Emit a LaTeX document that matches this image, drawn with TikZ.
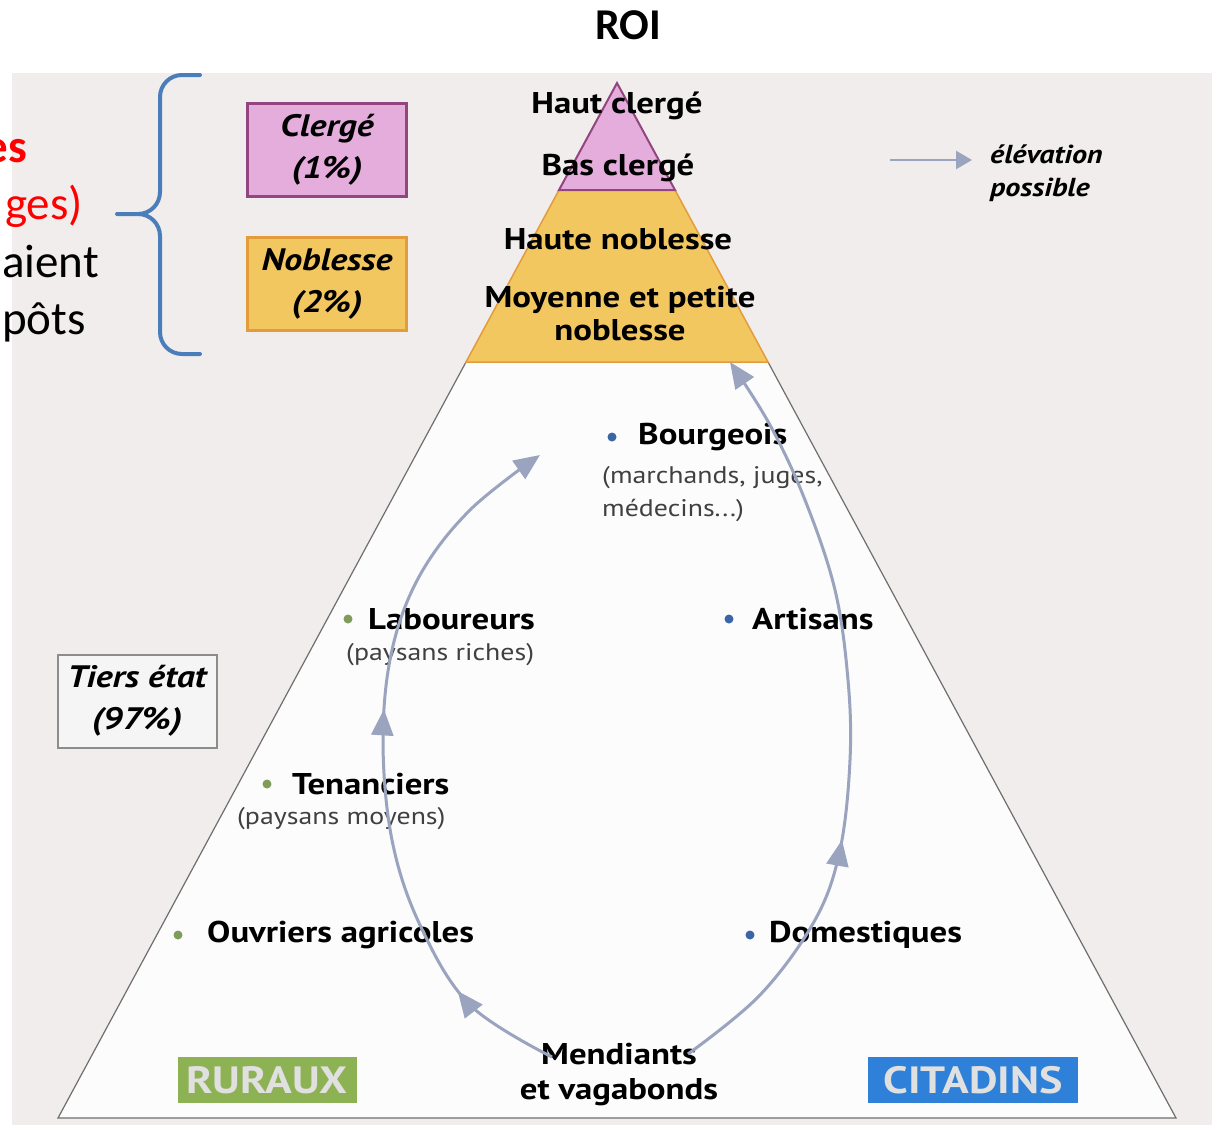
\documentclass[tikz,border=0pt]{standalone}
\usepackage{fontspec}
\setmainfont{PT Sans}[FakeStretch=1.16]
\newfontfamily\calib{Carlito}
\usetikzlibrary{arrows.meta,decorations.markings}
\definecolor{bgphoto}{HTML}{F1EDED}
\definecolor{innerwhite}{HTML}{FCFCFC}
\definecolor{clergyfill}{HTML}{E4ADDC}
\definecolor{clergyline}{HTML}{93457F}
\definecolor{noblefill}{HTML}{F3C760}
\definecolor{nobleline}{HTML}{E39C3C}
\definecolor{braceblue}{HTML}{4A7EBB}
\definecolor{arrowgrey}{HTML}{9AA4BE}
\definecolor{rurgreen}{HTML}{8DB253}
\definecolor{citblue}{HTML}{2F80D8}
\definecolor{dotgreen}{HTML}{7F9C5B}
\definecolor{dotblue}{HTML}{3A66A8}
\definecolor{edgegrey}{HTML}{6E6E6E}
\definecolor{redtxt}{HTML}{FF0000}
\begin{document}
\begin{tikzpicture}[x=1pt,y=-1pt,
  lvl/.style={font=\bfseries\fontsize{30}{32}\selectfont, inner sep=0pt},
  lab/.style={font=\bfseries\fontsize{30}{32}\selectfont, anchor=west, inner sep=0pt},
  sublab/.style={font=\fontsize{24}{26}\selectfont, anchor=west, inner sep=0pt, text=black!75},
  gdot/.style={circle, fill=dotgreen, minimum size=9pt, inner sep=0pt},
  bdot/.style={circle, fill=dotblue, minimum size=9pt, inner sep=0pt},
  legbox/.style={minimum width=159pt, minimum height=93pt, line width=2.5pt, inner sep=0pt,
     align=center, font=\bfseries\itshape\fontsize{31}{42}\selectfont},
  tagbox/.style={minimum width=180pt, minimum height=46pt, inner sep=0pt,
     font=\bfseries\fontsize{38}{40}\selectfont, text=white!88!black},
  loop/.style={draw=arrowgrey, line width=3pt},
  tipend/.style={-{Triangle[length=26pt,width=22pt]}},
  brace/.style={draw=braceblue, line width=4pt, line cap=round},
  lefttxt/.style={font=\calib\fontsize{47}{52}\selectfont, anchor=base east, inner sep=0pt}
]
\useasboundingbox (0,0) rectangle (1212,1125);
\fill[white] (0,0) rectangle (1212,1125);
\fill[bgphoto] (12,73) rectangle (1212,1125);

% pyramid
\coordinate (apex) at (617,83);
\coordinate (cl) at (559,190);
\coordinate (cr) at (675,190);
\coordinate (nl) at (466,362);
\coordinate (nr) at (768,362);
\coordinate (bl) at (58,1118);
\coordinate (br) at (1176,1118);
\fill[innerwhite] (nl) -- (nr) -- (br) -- (bl) -- cycle;
\draw[edgegrey, line width=1.2pt] (nl) -- (bl) -- (br) -- (nr);
\fill[noblefill] (cl) -- (cr) -- (nr) -- (nl) -- cycle;
\draw[nobleline, line width=1.5pt] (cl) -- (nl) -- (nr) -- (cr);
\filldraw[fill=clergyfill, draw=clergyline, line width=2pt] (apex) -- (cr) -- (cl) -- cycle;

% top title
\node[font=\calib\bfseries\fontsize{44}{48}\selectfont, inner sep=0pt] (roi) at (628,25) {ROI};

% left cut text and brace
\node[lefttxt, text=redtxt, font=\calib\bfseries\fontsize{47}{52}\selectfont] (t1) at (27,162) {es};
\node[lefttxt, text=redtxt] (t2) at (83,219) {ges)};
\node[lefttxt] (t3) at (99,277) {aient};
\node[lefttxt] (t4) at (86,334) {pôts};
\draw[brace] (200,75) -- (182,75) to[out=180,in=90] (160,97) -- (160,192) to[out=-90,in=0] (138,214) -- (117,214);
\draw[brace] (200,354) -- (182,354) to[out=180,in=-90] (160,332) -- (160,236) to[out=90,in=0] (138,214);

% legend boxes
\node[legbox, fill=clergyfill, draw=clergyline] (clergebox) at (327,150) {Clergé\\(1\%)};
\node[legbox, fill=noblefill, draw=nobleline] (noblebox) at (327,284) {Noblesse\\(2\%)};
\node[legbox, fill=white!96!black, draw=black!45, line width=2pt] (tiersbox) at (137,701) {Tiers état\\(97\%)};

% pyramid level labels
\node[lvl] (hc) at (617,106) {Haut clergé};
\node[lvl] (bc) at (618,168) {Bas clergé};
\node[lvl] (hn) at (618,239) {Haute noblesse};
\node[lvl, align=center, font=\bfseries\fontsize{30}{33}\selectfont] (mn) at (620,314) {Moyenne et petite\\noblesse};

% legend arrow
\coordinate (la) at (890,160);
\coordinate (lb) at (972,160);
\draw[draw=arrowgrey, line width=2.5pt, -{Triangle[length=16pt,width=18pt]}] (la) -- (lb);
\node[font=\bfseries\itshape\fontsize{26}{33}\selectfont, align=left, anchor=west, inner sep=0pt] (elev) at (990,173) {élévation\\possible};

% social groups
\node[bdot] (dB) at (612,437) {};
\node[lab] (tB) at (638,437) {Bourgeois};
\node[sublab, align=left, font=\fontsize{24}{33}\selectfont] (sB) at (602,494) {(marchands, juges,\\médecins...)};
\node[gdot] (dL) at (348,619) {};
\node[lab] (tL) at (368,619) {Laboureurs};
\node[sublab] (sL) at (346,655) {(paysans riches)};
\node[bdot] (dA) at (729,619) {};
\node[lab] (tA) at (752,619) {Artisans};
\node[gdot] (dT) at (267,784) {};
\node[lab] (tT) at (292,784) {Tenanciers};
\node[sublab] (sT) at (237,819) {(paysans moyens)};
\node[gdot] (dO) at (178,935) {};
\node[lab] (tO) at (207,935) {Ouvriers agricoles};
\node[bdot] (dD) at (750,935) {};
\node[lab] (tD) at (769,935) {Domestiques};
\node[lvl, align=center, font=\bfseries\fontsize{30}{35}\selectfont] (mend) at (619,1074) {Mendiants\\et vagabonds};

\node[tagbox, fill=rurgreen, minimum width=179pt] (rur) at (267,1080) {RURAUX};
\node[tagbox, fill=citblue, minimum width=210pt] (cit) at (973,1080) {CITADINS};

% elevation loop
\coordinate (ls) at (552,1057);
\coordinate (le) at (540,455);
\coordinate (rs) at (688,1054);
\coordinate (re) at (730,362);
\draw[loop, tipend, postaction={decorate}, decoration={markings,
   mark=at position 0.16 with {\arrow[arrowgrey]{Triangle[length=26pt,width=22pt]}},
   mark=at position 0.57 with {\arrow[arrowgrey]{Triangle[length=26pt,width=22pt]}}}]
  plot[smooth, tension=0.6] coordinates {(ls) (470,1005) (420,925) (392,840) (383,740) (392,650) (420,575) (470,510) (le)};
\draw[loop, tipend, postaction={decorate}, decoration={markings,
   mark=at position 0.35 with {\arrow[arrowgrey]{Triangle[length=26pt,width=22pt]}}}]
  plot[smooth, tension=0.6] coordinates {(rs) (760,995) (815,920) (840,850) (850,760) (848,680) (835,590) (805,500) (770,425) (re)};
\end{tikzpicture}
\end{document}
